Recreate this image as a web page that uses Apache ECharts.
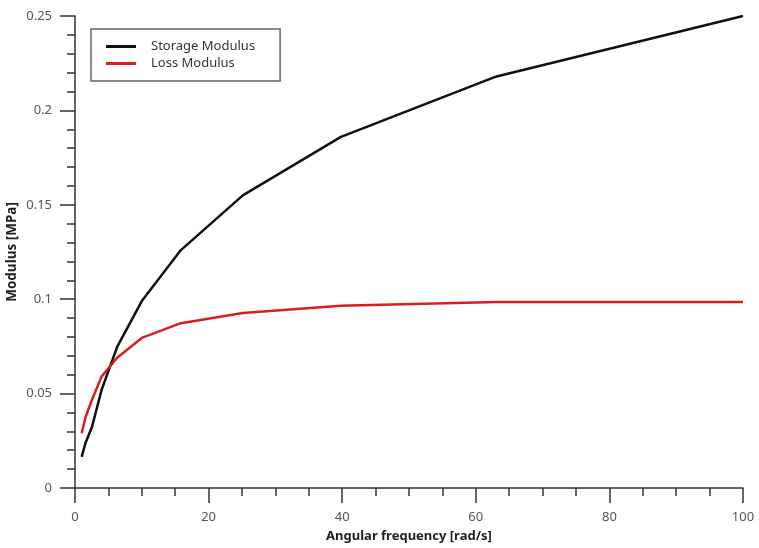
<!DOCTYPE html>
<html>
<head>
<meta charset="utf-8">
<script src="https://cdn.jsdelivr.net/npm/echarts@6/dist/echarts.min.js"></script>
<style>
  html, body { margin: 0; padding: 0; background: #fff; }
  #chart { width: 759px; height: 548px; }
</style>
</head>
<body>
<div id="chart"></div>
<script>
// Angular frequency sweep points (rad/s), log-spaced
const frequency = [1, 1.585, 2.512, 3.981, 6.31, 10, 15.85, 25.12, 39.81, 63.1, 100];
// Storage modulus G' (MPa)
const storageModulus = [0.0165, 0.024, 0.032, 0.052, 0.0747, 0.099, 0.126, 0.155, 0.186, 0.218, 0.25];
// Loss modulus G'' (MPa)
const lossModulus = [0.029, 0.0376, 0.0465, 0.059, 0.069, 0.0795, 0.0873, 0.0927, 0.0965, 0.0985, 0.0985];

const seriesNames = ['Storage Modulus', 'Loss Modulus'];
const seriesColors = ['#111111', '#d81e1e'];

const font = 'Noto Sans';
const toPairs = ys => frequency.map((x, i) => [x, ys[i]]);

const chart = echarts.init(document.getElementById('chart'), null, { renderer: 'canvas' });
chart.setOption({
  animation: false,
  backgroundColor: '#ffffff',
  textStyle: { fontFamily: font },
  grid: { left: 75, right: 16, top: 16, bottom: 60, containLabel: false, outerBoundsMode: 'none' },
  legend: {
    orient: 'vertical',
    left: 91,
    top: 29,
    padding: [11, 25, 11, 15],
    itemGap: 4,
    itemWidth: 30,
    itemHeight: 3,
    icon: 'rect',
    borderColor: '#666',
    borderWidth: 1.5,
    backgroundColor: '#fff',
    textStyle: { fontFamily: font, fontSize: 13, color: '#333', padding: [0, 0, 0, 10] },
    data: seriesNames
  },
  xAxis: {
    type: 'value',
    min: 0, max: 100, interval: 20,
    name: 'Angular frequency [rad/s]',
    nameLocation: 'middle',
    nameGap: 42,
    nameMoveOverlap: false,
    nameTextStyle: { fontFamily: font, fontSize: 13, fontWeight: 'bold', color: '#222' },
    axisLine: { show: true, onZero: false, lineStyle: { color: '#333', width: 1.5 } },
    axisTick: { show: true, inside: false, length: 15, lineStyle: { color: '#333', width: 1.5 } },
    minorTick: { show: true, splitNumber: 4, length: 8, lineStyle: { color: '#333', width: 1.5 } },
    axisLabel: { fontFamily: font, fontSize: 13, color: '#555', margin: 23 },
    splitLine: { show: false }
  },
  yAxis: {
    type: 'value',
    min: 0, max: 0.25, interval: 0.05,
    name: 'Modulus [MPa]',
    nameLocation: 'middle',
    nameGap: 56,
    nameMoveOverlap: false,
    nameTextStyle: { fontFamily: font, fontSize: 13.5, fontWeight: 'bold', color: '#222' },
    axisLine: { show: true, onZero: false, lineStyle: { color: '#333', width: 1.5 } },
    axisTick: { show: true, inside: false, length: 15, lineStyle: { color: '#333', width: 1.5 } },
    minorTick: { show: true, splitNumber: 5, length: 8, lineStyle: { color: '#333', width: 1.5 } },
    axisLabel: { fontFamily: font, fontSize: 13, color: '#555', margin: 23 },
    splitLine: { show: false }
  },
  series: [
    {
      name: seriesNames[0],
      type: 'line',
      data: toPairs(storageModulus),
      showSymbol: false,
      color: seriesColors[0],
      lineStyle: { width: 2.5, color: seriesColors[0] }
    },
    {
      name: seriesNames[1],
      type: 'line',
      data: toPairs(lossModulus),
      showSymbol: false,
      color: seriesColors[1],
      lineStyle: { width: 2.5, color: seriesColors[1] }
    }
  ]
});
</script>
</body>
</html>
